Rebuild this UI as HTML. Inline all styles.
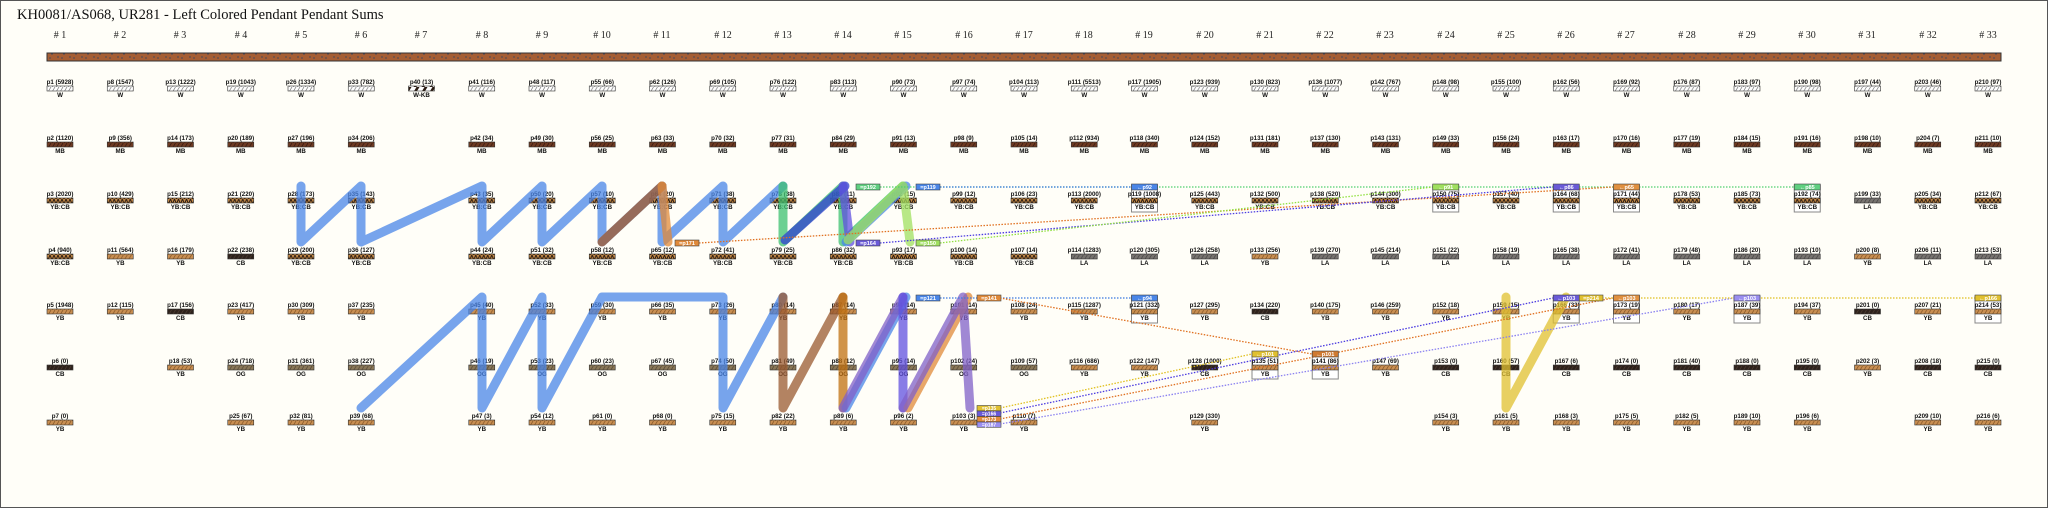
<!DOCTYPE html>
<html><head><meta charset="utf-8"><style>
html,body{margin:0;padding:0;background:#fffef8;}
svg{display:block}
.p text{font-family:"Liberation Sans",sans-serif;font-size:6.2px;text-anchor:middle;fill:#111;font-weight:bold}
.t{font-family:"Liberation Sans",sans-serif;font-size:5.5px;fill:#fff;text-anchor:middle;font-weight:bold}
.h{font-family:"Liberation Serif",serif;font-size:10px;fill:#222;text-anchor:middle}
.ln{fill:none;stroke-linecap:round;stroke-linejoin:round;stroke-width:9;opacity:.75}
.d{fill:none;stroke-width:1.3;stroke-dasharray:1.5 1.5}
</style></head><body>
<svg width="2048" height="508" viewBox="0 0 2048 508" xmlns="http://www.w3.org/2000/svg">
<defs>
<pattern id="pw" width="4" height="5" patternUnits="userSpaceOnUse"><rect width="4" height="5" fill="#fff"/><path d="M0,5 L3,0" stroke="#777" stroke-width=".7"/></pattern>
<pattern id="pmb" width="4" height="5" patternUnits="userSpaceOnUse"><rect width="4" height="5" fill="#6e3a22"/><path d="M0,5 L3,0" stroke="#3a1a10" stroke-width=".8"/></pattern>
<pattern id="pyc" width="4" height="5" patternUnits="userSpaceOnUse"><rect width="4" height="5" fill="#c48a48"/><path d="M0,5 L2,0 L4,5" stroke="#2a1a10" stroke-width="1" fill="none"/></pattern>
<pattern id="pyb" width="4" height="5" patternUnits="userSpaceOnUse"><rect width="4" height="5" fill="#c98f52"/><path d="M0,5 L3,0" stroke="#8a5a2a" stroke-width=".8"/></pattern>
<pattern id="pcb" width="4" height="5" patternUnits="userSpaceOnUse"><rect width="4" height="5" fill="#2e221c"/><path d="M0,5 L3,0" stroke="#4a3a30" stroke-width=".8"/></pattern>
<pattern id="pog" width="4" height="5" patternUnits="userSpaceOnUse"><rect width="4" height="5" fill="#8a7858"/><path d="M0,5 L3,0" stroke="#5a4a38" stroke-width=".8"/></pattern>
<pattern id="pla" width="4" height="5" patternUnits="userSpaceOnUse"><rect width="4" height="5" fill="#787470"/><path d="M0,5 L3,0" stroke="#4a4848" stroke-width=".8"/></pattern>
<pattern id="pwk" width="8" height="5" patternUnits="userSpaceOnUse"><rect width="8" height="5" fill="#fff"/><path d="M0,5 L3,0 L6,0 L3,5Z" fill="#2a1a10"/></pattern>
<pattern id="cord" width="12" height="8" patternUnits="userSpaceOnUse"><rect width="12" height="8" fill="#a55e34"/><path d="M1,2h2M6,5h3M9,1h2M3,6h2" stroke="#4a4a58" stroke-width="1"/></pattern>
<rect id="W" x="-13" y="4" width="26" height="5" fill="url(#pw)" stroke="#333" stroke-width=".6"/>
<rect id="MB" x="-13" y="4" width="26" height="5" fill="url(#pmb)" stroke="#333" stroke-width=".6"/>
<rect id="YC" x="-13" y="4" width="26" height="5" fill="url(#pyc)" stroke="#333" stroke-width=".6"/>
<rect id="YB" x="-13" y="4" width="26" height="5" fill="url(#pyb)" stroke="#333" stroke-width=".6"/>
<rect id="CB" x="-13" y="4" width="26" height="5" fill="url(#pcb)" stroke="#333" stroke-width=".6"/>
<rect id="OG" x="-13" y="4" width="26" height="5" fill="url(#pog)" stroke="#333" stroke-width=".6"/>
<rect id="LA" x="-13" y="4" width="26" height="5" fill="url(#pla)" stroke="#333" stroke-width=".6"/>
<rect id="WK" x="-13" y="4" width="26" height="5" fill="url(#pwk)" stroke="#333" stroke-width=".6"/>
<rect id="BX" x="-13" y="-9" width="26" height="27" fill="#fff" stroke="#888" stroke-width="1"/>
</defs>
<rect x="0.5" y="0.5" width="2047" height="507" fill="#fffef8" stroke="#555"/>
<text x="17" y="19" font-family="Liberation Serif,serif" font-size="14.5" fill="#111">KH0081/AS068, UR281 - Left Colored Pendant Pendant Sums</text>
<g class="h">
<text x="60" y="38"># 1</text><text x="120" y="38"># 2</text><text x="180" y="38"># 3</text><text x="241" y="38"># 4</text><text x="301" y="38"># 5</text><text x="361" y="38"># 6</text><text x="421" y="38"># 7</text><text x="482" y="38"># 8</text><text x="542" y="38"># 9</text><text x="602" y="38"># 10</text><text x="662" y="38"># 11</text><text x="723" y="38"># 12</text><text x="783" y="38"># 13</text><text x="843" y="38"># 14</text><text x="903" y="38"># 15</text><text x="964" y="38"># 16</text><text x="1024" y="38"># 17</text><text x="1084" y="38"># 18</text><text x="1144" y="38"># 19</text><text x="1205" y="38"># 20</text><text x="1265" y="38"># 21</text><text x="1325" y="38"># 22</text><text x="1385" y="38"># 23</text><text x="1446" y="38"># 24</text><text x="1506" y="38"># 25</text><text x="1566" y="38"># 26</text><text x="1626" y="38"># 27</text><text x="1687" y="38"># 28</text><text x="1747" y="38"># 29</text><text x="1807" y="38"># 30</text><text x="1867" y="38"># 31</text><text x="1928" y="38"># 32</text><text x="1988" y="38"># 33</text>
</g>
<rect x="47" y="53" width="1954" height="8" fill="url(#cord)" stroke="#333" stroke-width="1"/>

<!-- boxes -->
<use href="#BX" x="1144.5" y="194"/><use href="#BX" x="1144.5" y="305"/><use href="#BX" x="1265" y="361"/><use href="#BX" x="1325.25" y="361"/>
<use href="#BX" x="1445.75" y="194"/><use href="#BX" x="1566.25" y="194"/><use href="#BX" x="1566.25" y="305"/><use href="#BX" x="1626.5" y="194"/><use href="#BX" x="1626.5" y="305"/><use href="#BX" x="1747" y="305"/><use href="#BX" x="1807.25" y="194"/><use href="#BX" x="1988" y="305"/>

<g class="p">
<!-- c1 -->
<g transform="translate(60,82)"><text y="2">p1 (5928)</text><use href="#W"/><text y="15">W</text></g>
<g transform="translate(60,138)"><text y="2">p2 (1120)</text><use href="#MB"/><text y="15">MB</text></g>
<g transform="translate(60,194)"><text y="2">p3 (2020)</text><use href="#YC"/><text y="15">YB:CB</text></g>
<g transform="translate(60,250)"><text y="2">p4 (940)</text><use href="#YC"/><text y="15">YB:CB</text></g>
<g transform="translate(60,305)"><text y="2">p5 (1948)</text><use href="#YB"/><text y="15">YB</text></g>
<g transform="translate(60,361)"><text y="2">p6 (0)</text><use href="#CB"/><text y="15">CB</text></g>
<g transform="translate(60,416)"><text y="2">p7 (0)</text><use href="#YB"/><text y="15">YB</text></g>
<!-- c2 -->
<g transform="translate(120.25,82)"><text y="2">p8 (1547)</text><use href="#W"/><text y="15">W</text></g>
<g transform="translate(120.25,138)"><text y="2">p9 (356)</text><use href="#MB"/><text y="15">MB</text></g>
<g transform="translate(120.25,194)"><text y="2">p10 (429)</text><use href="#YC"/><text y="15">YB:CB</text></g>
<g transform="translate(120.25,250)"><text y="2">p11 (564)</text><use href="#YB"/><text y="15">YB</text></g>
<g transform="translate(120.25,305)"><text y="2">p12 (115)</text><use href="#YB"/><text y="15">YB</text></g>
<!-- c3 -->
<g transform="translate(180.5,82)"><text y="2">p13 (1222)</text><use href="#W"/><text y="15">W</text></g>
<g transform="translate(180.5,138)"><text y="2">p14 (173)</text><use href="#MB"/><text y="15">MB</text></g>
<g transform="translate(180.5,194)"><text y="2">p15 (212)</text><use href="#YC"/><text y="15">YB:CB</text></g>
<g transform="translate(180.5,250)"><text y="2">p16 (179)</text><use href="#YB"/><text y="15">YB</text></g>
<g transform="translate(180.5,305)"><text y="2">p17 (156)</text><use href="#CB"/><text y="15">CB</text></g>
<g transform="translate(180.5,361)"><text y="2">p18 (53)</text><use href="#YB"/><text y="15">YB</text></g>
<!-- c4 -->
<g transform="translate(240.75,82)"><text y="2">p19 (1043)</text><use href="#W"/><text y="15">W</text></g>
<g transform="translate(240.75,138)"><text y="2">p20 (189)</text><use href="#MB"/><text y="15">MB</text></g>
<g transform="translate(240.75,194)"><text y="2">p21 (220)</text><use href="#YC"/><text y="15">YB:CB</text></g>
<g transform="translate(240.75,250)"><text y="2">p22 (238)</text><use href="#CB"/><text y="15">CB</text></g>
<g transform="translate(240.75,305)"><text y="2">p23 (417)</text><use href="#YB"/><text y="15">YB</text></g>
<g transform="translate(240.75,361)"><text y="2">p24 (718)</text><use href="#OG"/><text y="15">OG</text></g>
<g transform="translate(240.75,416)"><text y="2">p25 (67)</text><use href="#YB"/><text y="15">YB</text></g>
<!-- c5 -->
<g transform="translate(301,82)"><text y="2">p26 (1334)</text><use href="#W"/><text y="15">W</text></g>
<g transform="translate(301,138)"><text y="2">p27 (196)</text><use href="#MB"/><text y="15">MB</text></g>
<g transform="translate(301,194)"><text y="2">p28 (173)</text><use href="#YC"/><text y="15">YB:CB</text></g>
<g transform="translate(301,250)"><text y="2">p29 (200)</text><use href="#YC"/><text y="15">YB:CB</text></g>
<g transform="translate(301,305)"><text y="2">p30 (309)</text><use href="#YB"/><text y="15">YB</text></g>
<g transform="translate(301,361)"><text y="2">p31 (361)</text><use href="#OG"/><text y="15">OG</text></g>
<g transform="translate(301,416)"><text y="2">p32 (81)</text><use href="#YB"/><text y="15">YB</text></g>
<!-- c6 -->
<g transform="translate(361.25,82)"><text y="2">p33 (782)</text><use href="#W"/><text y="15">W</text></g>
<g transform="translate(361.25,138)"><text y="2">p34 (206)</text><use href="#MB"/><text y="15">MB</text></g>
<g transform="translate(361.25,194)"><text y="2">p35 (143)</text><use href="#YC"/><text y="15">YB:CB</text></g>
<g transform="translate(361.25,250)"><text y="2">p36 (127)</text><use href="#YC"/><text y="15">YB:CB</text></g>
<g transform="translate(361.25,305)"><text y="2">p37 (235)</text><use href="#YB"/><text y="15">YB</text></g>
<g transform="translate(361.25,361)"><text y="2">p38 (227)</text><use href="#OG"/><text y="15">OG</text></g>
<g transform="translate(361.25,416)"><text y="2">p39 (68)</text><use href="#YB"/><text y="15">YB</text></g>
<!-- c7 -->
<g transform="translate(421.5,82)"><text y="2">p40 (13)</text><use href="#WK"/><text y="15">W-KB</text></g>
<!-- c8 -->
<g transform="translate(481.75,82)"><text y="2">p41 (116)</text><use href="#W"/><text y="15">W</text></g>
<g transform="translate(481.75,138)"><text y="2">p42 (34)</text><use href="#MB"/><text y="15">MB</text></g>
<g transform="translate(481.75,194)"><text y="2">p43 (35)</text><use href="#YC"/><text y="15">YB:CB</text></g>
<g transform="translate(481.75,250)"><text y="2">p44 (24)</text><use href="#YC"/><text y="15">YB:CB</text></g>
<g transform="translate(481.75,305)"><text y="2">p45 (40)</text><use href="#YB"/><text y="15">YB</text></g>
<g transform="translate(481.75,361)"><text y="2">p46 (19)</text><use href="#OG"/><text y="15">OG</text></g>
<g transform="translate(481.75,416)"><text y="2">p47 (3)</text><use href="#YB"/><text y="15">YB</text></g>
<!-- c9 -->
<g transform="translate(542,82)"><text y="2">p48 (117)</text><use href="#W"/><text y="15">W</text></g>
<g transform="translate(542,138)"><text y="2">p49 (30)</text><use href="#MB"/><text y="15">MB</text></g>
<g transform="translate(542,194)"><text y="2">p50 (20)</text><use href="#YC"/><text y="15">YB:CB</text></g>
<g transform="translate(542,250)"><text y="2">p51 (32)</text><use href="#YC"/><text y="15">YB:CB</text></g>
<g transform="translate(542,305)"><text y="2">p52 (33)</text><use href="#YB"/><text y="15">YB</text></g>
<g transform="translate(542,361)"><text y="2">p53 (23)</text><use href="#OG"/><text y="15">OG</text></g>
<g transform="translate(542,416)"><text y="2">p54 (12)</text><use href="#YB"/><text y="15">YB</text></g>
<!-- c10 -->
<g transform="translate(602.25,82)"><text y="2">p55 (66)</text><use href="#W"/><text y="15">W</text></g>
<g transform="translate(602.25,138)"><text y="2">p56 (25)</text><use href="#MB"/><text y="15">MB</text></g>
<g transform="translate(602.25,194)"><text y="2">p57 (10)</text><use href="#YC"/><text y="15">YB:CB</text></g>
<g transform="translate(602.25,250)"><text y="2">p58 (12)</text><use href="#YC"/><text y="15">YB:CB</text></g>
<g transform="translate(602.25,305)"><text y="2">p59 (30)</text><use href="#YB"/><text y="15">YB</text></g>
<g transform="translate(602.25,361)"><text y="2">p60 (23)</text><use href="#OG"/><text y="15">OG</text></g>
<g transform="translate(602.25,416)"><text y="2">p61 (0)</text><use href="#YB"/><text y="15">YB</text></g>
<!-- c11 -->
<g transform="translate(662.5,82)"><text y="2">p62 (126)</text><use href="#W"/><text y="15">W</text></g>
<g transform="translate(662.5,138)"><text y="2">p63 (33)</text><use href="#MB"/><text y="15">MB</text></g>
<g transform="translate(662.5,194)"><text y="2">p64 (20)</text><use href="#YC"/><text y="15">YB:CB</text></g>
<g transform="translate(662.5,250)"><text y="2">p65 (12)</text><use href="#YC"/><text y="15">YB:CB</text></g>
<g transform="translate(662.5,305)"><text y="2">p66 (35)</text><use href="#YB"/><text y="15">YB</text></g>
<g transform="translate(662.5,361)"><text y="2">p67 (45)</text><use href="#OG"/><text y="15">OG</text></g>
<g transform="translate(662.5,416)"><text y="2">p68 (0)</text><use href="#YB"/><text y="15">YB</text></g>
<!-- c12 -->
<g transform="translate(722.75,82)"><text y="2">p69 (105)</text><use href="#W"/><text y="15">W</text></g>
<g transform="translate(722.75,138)"><text y="2">p70 (32)</text><use href="#MB"/><text y="15">MB</text></g>
<g transform="translate(722.75,194)"><text y="2">p71 (38)</text><use href="#YC"/><text y="15">YB:CB</text></g>
<g transform="translate(722.75,250)"><text y="2">p72 (41)</text><use href="#YC"/><text y="15">YB:CB</text></g>
<g transform="translate(722.75,305)"><text y="2">p73 (26)</text><use href="#YB"/><text y="15">YB</text></g>
<g transform="translate(722.75,361)"><text y="2">p74 (50)</text><use href="#OG"/><text y="15">OG</text></g>
<g transform="translate(722.75,416)"><text y="2">p75 (15)</text><use href="#YB"/><text y="15">YB</text></g>
<!-- c13 -->
<g transform="translate(783,82)"><text y="2">p76 (122)</text><use href="#W"/><text y="15">W</text></g>
<g transform="translate(783,138)"><text y="2">p77 (31)</text><use href="#MB"/><text y="15">MB</text></g>
<g transform="translate(783,194)"><text y="2">p78 (38)</text><use href="#YC"/><text y="15">YB:CB</text></g>
<g transform="translate(783,250)"><text y="2">p79 (25)</text><use href="#YC"/><text y="15">YB:CB</text></g>
<g transform="translate(783,305)"><text y="2">p80 (14)</text><use href="#YB"/><text y="15">YB</text></g>
<g transform="translate(783,361)"><text y="2">p81 (49)</text><use href="#OG"/><text y="15">OG</text></g>
<g transform="translate(783,416)"><text y="2">p82 (22)</text><use href="#YB"/><text y="15">YB</text></g>
<!-- c14 -->
<g transform="translate(843.25,82)"><text y="2">p83 (113)</text><use href="#W"/><text y="15">W</text></g>
<g transform="translate(843.25,138)"><text y="2">p84 (29)</text><use href="#MB"/><text y="15">MB</text></g>
<g transform="translate(843.25,194)"><text y="2">p85 (11)</text><use href="#YC"/><text y="15">YB:CB</text></g>
<g transform="translate(843.25,250)"><text y="2">p86 (32)</text><use href="#YC"/><text y="15">YB:CB</text></g>
<g transform="translate(843.25,305)"><text y="2">p87 (14)</text><use href="#YB"/><text y="15">YB</text></g>
<g transform="translate(843.25,361)"><text y="2">p88 (12)</text><use href="#OG"/><text y="15">OG</text></g>
<g transform="translate(843.25,416)"><text y="2">p89 (6)</text><use href="#YB"/><text y="15">YB</text></g>
<!-- c15 -->
<g transform="translate(903.5,82)"><text y="2">p90 (73)</text><use href="#W"/><text y="15">W</text></g>
<g transform="translate(903.5,138)"><text y="2">p91 (13)</text><use href="#MB"/><text y="15">MB</text></g>
<g transform="translate(903.5,194)"><text y="2">p92 (15)</text><use href="#YC"/><text y="15">YB:CB</text></g>
<g transform="translate(903.5,250)"><text y="2">p93 (17)</text><use href="#YC"/><text y="15">YB:CB</text></g>
<g transform="translate(903.5,305)"><text y="2">p94 (14)</text><use href="#YB"/><text y="15">YB</text></g>
<g transform="translate(903.5,361)"><text y="2">p95 (14)</text><use href="#OG"/><text y="15">OG</text></g>
<g transform="translate(903.5,416)"><text y="2">p96 (2)</text><use href="#YB"/><text y="15">YB</text></g>
<!-- c16 -->
<g transform="translate(963.75,82)"><text y="2">p97 (74)</text><use href="#W"/><text y="15">W</text></g>
<g transform="translate(963.75,138)"><text y="2">p98 (9)</text><use href="#MB"/><text y="15">MB</text></g>
<g transform="translate(963.75,194)"><text y="2">p99 (12)</text><use href="#YC"/><text y="15">YB:CB</text></g>
<g transform="translate(963.75,250)"><text y="2">p100 (14)</text><use href="#YC"/><text y="15">YB:CB</text></g>
<g transform="translate(963.75,305)"><text y="2">p101 (14)</text><use href="#YB"/><text y="15">YB</text></g>
<g transform="translate(963.75,361)"><text y="2">p102 (24)</text><use href="#OG"/><text y="15">OG</text></g>
<g transform="translate(963.75,416)"><text y="2">p103 (3)</text><use href="#YB"/><text y="15">YB</text></g>
<!-- c17 -->
<g transform="translate(1024,82)"><text y="2">p104 (113)</text><use href="#W"/><text y="15">W</text></g>
<g transform="translate(1024,138)"><text y="2">p105 (14)</text><use href="#MB"/><text y="15">MB</text></g>
<g transform="translate(1024,194)"><text y="2">p106 (23)</text><use href="#YC"/><text y="15">YB:CB</text></g>
<g transform="translate(1024,250)"><text y="2">p107 (14)</text><use href="#YC"/><text y="15">YB:CB</text></g>
<g transform="translate(1024,305)"><text y="2">p108 (24)</text><use href="#YB"/><text y="15">YB</text></g>
<g transform="translate(1024,361)"><text y="2">p109 (57)</text><use href="#OG"/><text y="15">OG</text></g>
<g transform="translate(1024,416)"><text y="2">p110 (7)</text><use href="#YB"/><text y="15">YB</text></g>
<!-- c18 -->
<g transform="translate(1084.25,82)"><text y="2">p111 (5513)</text><use href="#W"/><text y="15">W</text></g>
<g transform="translate(1084.25,138)"><text y="2">p112 (934)</text><use href="#MB"/><text y="15">MB</text></g>
<g transform="translate(1084.25,194)"><text y="2">p113 (2000)</text><use href="#YC"/><text y="15">YB:CB</text></g>
<g transform="translate(1084.25,250)"><text y="2">p114 (1283)</text><use href="#LA"/><text y="15">LA</text></g>
<g transform="translate(1084.25,305)"><text y="2">p115 (1287)</text><use href="#YB"/><text y="15">YB</text></g>
<g transform="translate(1084.25,361)"><text y="2">p116 (686)</text><use href="#YB"/><text y="15">YB</text></g>
<!-- c19 -->
<g transform="translate(1144.5,82)"><text y="2">p117 (1905)</text><use href="#W"/><text y="15">W</text></g>
<g transform="translate(1144.5,138)"><text y="2">p118 (340)</text><use href="#MB"/><text y="15">MB</text></g>
<g transform="translate(1144.5,194)"><text y="2">p119 (1008)</text><use href="#YC"/><text y="15">YB:CB</text></g>
<g transform="translate(1144.5,250)"><text y="2">p120 (305)</text><use href="#LA"/><text y="15">LA</text></g>
<g transform="translate(1144.5,305)"><text y="2">p121 (332)</text><use href="#YB"/><text y="15">YB</text></g>
<g transform="translate(1144.5,361)"><text y="2">p122 (147)</text><use href="#YB"/><text y="15">YB</text></g>
<!-- c20 -->
<g transform="translate(1204.75,82)"><text y="2">p123 (939)</text><use href="#W"/><text y="15">W</text></g>
<g transform="translate(1204.75,138)"><text y="2">p124 (152)</text><use href="#MB"/><text y="15">MB</text></g>
<g transform="translate(1204.75,194)"><text y="2">p125 (443)</text><use href="#YC"/><text y="15">YB:CB</text></g>
<g transform="translate(1204.75,250)"><text y="2">p126 (258)</text><use href="#LA"/><text y="15">LA</text></g>
<g transform="translate(1204.75,305)"><text y="2">p127 (295)</text><use href="#YB"/><text y="15">YB</text></g>
<g transform="translate(1204.75,361)"><text y="2">p128 (1000)</text><use href="#CB"/><text y="15">CB</text></g>
<g transform="translate(1204.75,416)"><text y="2">p129 (330)</text><use href="#YB"/><text y="15">YB</text></g>
<!-- c21 -->
<g transform="translate(1265,82)"><text y="2">p130 (823)</text><use href="#W"/><text y="15">W</text></g>
<g transform="translate(1265,138)"><text y="2">p131 (181)</text><use href="#MB"/><text y="15">MB</text></g>
<g transform="translate(1265,194)"><text y="2">p132 (500)</text><use href="#YC"/><text y="15">YB:CB</text></g>
<g transform="translate(1265,250)"><text y="2">p133 (256)</text><use href="#YB"/><text y="15">YB</text></g>
<g transform="translate(1265,305)"><text y="2">p134 (220)</text><use href="#CB"/><text y="15">CB</text></g>
<g transform="translate(1265,361)"><text y="2">p135 (51)</text><use href="#YB"/><text y="15">YB</text></g>
<!-- c22 -->
<g transform="translate(1325.25,82)"><text y="2">p136 (1077)</text><use href="#W"/><text y="15">W</text></g>
<g transform="translate(1325.25,138)"><text y="2">p137 (130)</text><use href="#MB"/><text y="15">MB</text></g>
<g transform="translate(1325.25,194)"><text y="2">p138 (520)</text><use href="#YC"/><text y="15">YB:CB</text></g>
<g transform="translate(1325.25,250)"><text y="2">p139 (270)</text><use href="#LA"/><text y="15">LA</text></g>
<g transform="translate(1325.25,305)"><text y="2">p140 (175)</text><use href="#YB"/><text y="15">YB</text></g>
<g transform="translate(1325.25,361)"><text y="2">p141 (86)</text><use href="#YB"/><text y="15">YB</text></g>
<!-- c23 -->
<g transform="translate(1385.5,82)"><text y="2">p142 (767)</text><use href="#W"/><text y="15">W</text></g>
<g transform="translate(1385.5,138)"><text y="2">p143 (131)</text><use href="#MB"/><text y="15">MB</text></g>
<g transform="translate(1385.5,194)"><text y="2">p144 (300)</text><use href="#YC"/><text y="15">YB:CB</text></g>
<g transform="translate(1385.5,250)"><text y="2">p145 (214)</text><use href="#LA"/><text y="15">LA</text></g>
<g transform="translate(1385.5,305)"><text y="2">p146 (259)</text><use href="#YB"/><text y="15">YB</text></g>
<g transform="translate(1385.5,361)"><text y="2">p147 (69)</text><use href="#YB"/><text y="15">YB</text></g>
<!-- c24 -->
<g transform="translate(1445.75,82)"><text y="2">p148 (98)</text><use href="#W"/><text y="15">W</text></g>
<g transform="translate(1445.75,138)"><text y="2">p149 (33)</text><use href="#MB"/><text y="15">MB</text></g>
<g transform="translate(1445.75,194)"><text y="2">p150 (75)</text><use href="#YC"/><text y="15">YB:CB</text></g>
<g transform="translate(1445.75,250)"><text y="2">p151 (22)</text><use href="#LA"/><text y="15">LA</text></g>
<g transform="translate(1445.75,305)"><text y="2">p152 (18)</text><use href="#YB"/><text y="15">YB</text></g>
<g transform="translate(1445.75,361)"><text y="2">p153 (0)</text><use href="#CB"/><text y="15">CB</text></g>
<g transform="translate(1445.75,416)"><text y="2">p154 (3)</text><use href="#YB"/><text y="15">YB</text></g>
<!-- c25 -->
<g transform="translate(1506,82)"><text y="2">p155 (100)</text><use href="#W"/><text y="15">W</text></g>
<g transform="translate(1506,138)"><text y="2">p156 (24)</text><use href="#MB"/><text y="15">MB</text></g>
<g transform="translate(1506,194)"><text y="2">p157 (40)</text><use href="#YC"/><text y="15">YB:CB</text></g>
<g transform="translate(1506,250)"><text y="2">p158 (19)</text><use href="#LA"/><text y="15">LA</text></g>
<g transform="translate(1506,305)"><text y="2">p159 (15)</text><use href="#YB"/><text y="15">YB</text></g>
<g transform="translate(1506,361)"><text y="2">p160 (57)</text><use href="#CB"/><text y="15">CB</text></g>
<g transform="translate(1506,416)"><text y="2">p161 (5)</text><use href="#YB"/><text y="15">YB</text></g>
<!-- c26 -->
<g transform="translate(1566.25,82)"><text y="2">p162 (56)</text><use href="#W"/><text y="15">W</text></g>
<g transform="translate(1566.25,138)"><text y="2">p163 (17)</text><use href="#MB"/><text y="15">MB</text></g>
<g transform="translate(1566.25,194)"><text y="2">p164 (68)</text><use href="#YC"/><text y="15">YB:CB</text></g>
<g transform="translate(1566.25,250)"><text y="2">p165 (38)</text><use href="#LA"/><text y="15">LA</text></g>
<g transform="translate(1566.25,305)"><text y="2">p166 (33)</text><use href="#YB"/><text y="15">YB</text></g>
<g transform="translate(1566.25,361)"><text y="2">p167 (6)</text><use href="#CB"/><text y="15">CB</text></g>
<g transform="translate(1566.25,416)"><text y="2">p168 (3)</text><use href="#YB"/><text y="15">YB</text></g>
<!-- c27 -->
<g transform="translate(1626.5,82)"><text y="2">p169 (92)</text><use href="#W"/><text y="15">W</text></g>
<g transform="translate(1626.5,138)"><text y="2">p170 (16)</text><use href="#MB"/><text y="15">MB</text></g>
<g transform="translate(1626.5,194)"><text y="2">p171 (44)</text><use href="#YC"/><text y="15">YB:CB</text></g>
<g transform="translate(1626.5,250)"><text y="2">p172 (41)</text><use href="#LA"/><text y="15">LA</text></g>
<g transform="translate(1626.5,305)"><text y="2">p173 (19)</text><use href="#YB"/><text y="15">YB</text></g>
<g transform="translate(1626.5,361)"><text y="2">p174 (0)</text><use href="#CB"/><text y="15">CB</text></g>
<g transform="translate(1626.5,416)"><text y="2">p175 (5)</text><use href="#YB"/><text y="15">YB</text></g>
<!-- c28 -->
<g transform="translate(1686.75,82)"><text y="2">p176 (87)</text><use href="#W"/><text y="15">W</text></g>
<g transform="translate(1686.75,138)"><text y="2">p177 (19)</text><use href="#MB"/><text y="15">MB</text></g>
<g transform="translate(1686.75,194)"><text y="2">p178 (53)</text><use href="#YC"/><text y="15">YB:CB</text></g>
<g transform="translate(1686.75,250)"><text y="2">p179 (48)</text><use href="#LA"/><text y="15">LA</text></g>
<g transform="translate(1686.75,305)"><text y="2">p180 (17)</text><use href="#YB"/><text y="15">YB</text></g>
<g transform="translate(1686.75,361)"><text y="2">p181 (40)</text><use href="#CB"/><text y="15">CB</text></g>
<g transform="translate(1686.75,416)"><text y="2">p182 (5)</text><use href="#YB"/><text y="15">YB</text></g>
<!-- c29 -->
<g transform="translate(1747,82)"><text y="2">p183 (97)</text><use href="#W"/><text y="15">W</text></g>
<g transform="translate(1747,138)"><text y="2">p184 (15)</text><use href="#MB"/><text y="15">MB</text></g>
<g transform="translate(1747,194)"><text y="2">p185 (73)</text><use href="#YC"/><text y="15">YB:CB</text></g>
<g transform="translate(1747,250)"><text y="2">p186 (20)</text><use href="#LA"/><text y="15">LA</text></g>
<g transform="translate(1747,305)"><text y="2">p187 (39)</text><use href="#YB"/><text y="15">YB</text></g>
<g transform="translate(1747,361)"><text y="2">p188 (0)</text><use href="#CB"/><text y="15">CB</text></g>
<g transform="translate(1747,416)"><text y="2">p189 (10)</text><use href="#YB"/><text y="15">YB</text></g>
<!-- c30 -->
<g transform="translate(1807.25,82)"><text y="2">p190 (98)</text><use href="#W"/><text y="15">W</text></g>
<g transform="translate(1807.25,138)"><text y="2">p191 (16)</text><use href="#MB"/><text y="15">MB</text></g>
<g transform="translate(1807.25,194)"><text y="2">p192 (74)</text><use href="#YC"/><text y="15">YB:CB</text></g>
<g transform="translate(1807.25,250)"><text y="2">p193 (10)</text><use href="#LA"/><text y="15">LA</text></g>
<g transform="translate(1807.25,305)"><text y="2">p194 (37)</text><use href="#YB"/><text y="15">YB</text></g>
<g transform="translate(1807.25,361)"><text y="2">p195 (0)</text><use href="#CB"/><text y="15">CB</text></g>
<g transform="translate(1807.25,416)"><text y="2">p196 (6)</text><use href="#YB"/><text y="15">YB</text></g>
<!-- c31 -->
<g transform="translate(1867.5,82)"><text y="2">p197 (44)</text><use href="#W"/><text y="15">W</text></g>
<g transform="translate(1867.5,138)"><text y="2">p198 (10)</text><use href="#MB"/><text y="15">MB</text></g>
<g transform="translate(1867.5,194)"><text y="2">p199 (33)</text><use href="#LA"/><text y="15">LA</text></g>
<g transform="translate(1867.5,250)"><text y="2">p200 (8)</text><use href="#YB"/><text y="15">YB</text></g>
<g transform="translate(1867.5,305)"><text y="2">p201 (0)</text><use href="#CB"/><text y="15">CB</text></g>
<g transform="translate(1867.5,361)"><text y="2">p202 (3)</text><use href="#YB"/><text y="15">YB</text></g>
<!-- c32 -->
<g transform="translate(1927.75,82)"><text y="2">p203 (46)</text><use href="#W"/><text y="15">W</text></g>
<g transform="translate(1927.75,138)"><text y="2">p204 (7)</text><use href="#MB"/><text y="15">MB</text></g>
<g transform="translate(1927.75,194)"><text y="2">p205 (34)</text><use href="#YC"/><text y="15">YB:CB</text></g>
<g transform="translate(1927.75,250)"><text y="2">p206 (11)</text><use href="#LA"/><text y="15">LA</text></g>
<g transform="translate(1927.75,305)"><text y="2">p207 (21)</text><use href="#YB"/><text y="15">YB</text></g>
<g transform="translate(1927.75,361)"><text y="2">p208 (18)</text><use href="#CB"/><text y="15">CB</text></g>
<g transform="translate(1927.75,416)"><text y="2">p209 (10)</text><use href="#YB"/><text y="15">YB</text></g>
<!-- c33 -->
<g transform="translate(1988,82)"><text y="2">p210 (97)</text><use href="#W"/><text y="15">W</text></g>
<g transform="translate(1988,138)"><text y="2">p211 (10)</text><use href="#MB"/><text y="15">MB</text></g>
<g transform="translate(1988,194)"><text y="2">p212 (67)</text><use href="#YC"/><text y="15">YB:CB</text></g>
<g transform="translate(1988,250)"><text y="2">p213 (53)</text><use href="#LA"/><text y="15">LA</text></g>
<g transform="translate(1988,305)"><text y="2">p214 (53)</text><use href="#YB"/><text y="15">YB</text></g>
<g transform="translate(1988,361)"><text y="2">p215 (0)</text><use href="#CB"/><text y="15">CB</text></g>
<g transform="translate(1988,416)"><text y="2">p216 (6)</text><use href="#YB"/><text y="15">YB</text></g>
</g>

<!-- thick sum lines -->
<path class="ln" stroke="#4a86e8" d="M301,186 L301,242 L361,186 L361,242 L482,186 L482,242 L542,186 L542,242 L602,186 L602,242 L662,186 L662,242 L723,186 L723,242 L783,186"/>
<path class="ln" stroke="#a0582a" d="M602,242 L662,186"/>
<path class="ln" stroke="#e08a3a" d="M662,186 L668,242"/>
<path class="ln" stroke="#3cc070" d="M783,186 L783,242 L843,186 L843,242 L903,186"/>
<path class="ln" stroke="#3040d0" stroke-width="4" d="M785,240 L845,186"/>
<path class="ln" stroke="#6050e0" stroke-width="6" d="M843,186 L850,242"/>
<path class="ln" stroke="#4a86e8" stroke-width="5" d="M846,242 L906,186"/>
<path class="ln" stroke="#a0e060" d="M848,240 L903,186 L910,242"/>
<path class="ln" stroke="#4a86e8" d="M361,408 L482,297 L482,408 L542,297 L542,408 L602,297 L723,297 L723,408 L783,297"/>
<path class="ln" stroke="#9a5a30" d="M783,297 L783,408 L843,297"/>
<path class="ln" stroke="#c07010" d="M843,297 L843,408"/>
<path class="ln" stroke="#4a86e8" stroke-width="6" d="M846,408 L906,297"/>
<path class="ln" stroke="#8060c8" d="M843,408 L903,297"/>
<path class="ln" stroke="#6050e0" d="M903,297 L903,408"/>
<path class="ln" stroke="#e08a3a" stroke-width="6" d="M908,408 L968,297"/>
<path class="ln" stroke="#8060c8" d="M903,408 L963,297 L970,408"/>
<path class="ln" stroke="#e0c030" d="M1506,297 L1506,408 L1566,297"/>

<!-- dotted connectors -->
<g>
<path class="d" stroke="#50d070" d="M880,187 L1794,187"/>
<path class="d" stroke="#3a7ae0" d="M940,187 L1131,187"/>
<path class="d" stroke="#e07020" d="M699,243 L1613,187"/>
<path class="d" stroke="#4a3ae0" d="M880,243 L1553,187"/>
<path class="d" stroke="#90e040" d="M940,243 L1433,187"/>
<path class="d" stroke="#3a7ae0" d="M940,298 L1131,298"/>
<path class="d" stroke="#e07020" d="M1000,298 L1312,354"/>
<path class="d" stroke="#e0c020" d="M1000,408 L1252,354"/>
<path class="d" stroke="#4a3ae0" d="M1000,413 L1553,298"/>
<path class="d" stroke="#e07020" d="M1000,419 L1613,298"/>
<path class="d" stroke="#8a80f0" d="M1000,424 L1734,298"/>
<path class="d" stroke="#e0c020" d="M1602,298 L1975,298"/>
</g>

<!-- source tags -->
<g stroke="#444" stroke-width=".6">
<rect x="856" y="184" width="24" height="6" fill="#60d080"/>
<rect x="916" y="184" width="24" height="6" fill="#4a86e8"/>
<rect x="675" y="240" width="24" height="6" fill="#e08a3a"/>
<rect x="856" y="240" width="24" height="6" fill="#6a5ad8"/>
<rect x="916" y="240" width="24" height="6" fill="#a0e060"/>
<rect x="916" y="295" width="24" height="6" fill="#4a86e8"/>
<rect x="977" y="295" width="24" height="6" fill="#e08a3a"/>
<rect x="977" y="405.5" width="24" height="5.3" fill="#e0c030"/>
<rect x="977" y="411" width="24" height="5.3" fill="#6a5ad8"/>
<rect x="977" y="416.5" width="24" height="5.3" fill="#e08a3a"/>
<rect x="977" y="422" width="24" height="5.3" fill="#9a8ef0"/>
<rect x="1579" y="295" width="24" height="6" fill="#e0c030"/>
<!-- dest tags -->
<rect x="1131.5" y="184" width="26" height="6" fill="#4a86e8"/>
<rect x="1131.5" y="295" width="26" height="6" fill="#4a86e8"/>
<rect x="1252" y="351" width="26" height="6" fill="#e0c030"/>
<rect x="1312.25" y="351" width="26" height="6" fill="#d07a30"/>
<rect x="1432.75" y="184" width="26" height="6" fill="#a0e060"/>
<rect x="1553.25" y="184" width="26" height="6" fill="#6a5ad8"/>
<rect x="1553.25" y="295" width="26" height="6" fill="#6a5ad8"/>
<rect x="1613.5" y="184" width="26" height="6" fill="#e09040"/>
<rect x="1613.5" y="295" width="26" height="6" fill="#e09040"/>
<rect x="1734" y="295" width="26" height="6" fill="#9a8ef0"/>
<rect x="1794.25" y="184" width="26" height="6" fill="#60d080"/>
<rect x="1975" y="295" width="26" height="6" fill="#e0c030"/>
</g>
<g class="t">
<text x="868" y="189">=p192</text><text x="928" y="189">=p119</text><text x="687" y="245">=p171</text><text x="868" y="245">=p164</text><text x="928" y="245">=p150</text><text x="928" y="300">=p121</text><text x="989" y="300">=p141</text>
<text x="989" y="410" font-size="5">=p135</text><text x="989" y="415.5" font-size="5">=p166</text><text x="989" y="421" font-size="5">=p173</text><text x="989" y="426.5" font-size="5">=p187</text><text x="1591" y="300">=p214</text>
<text x="1144.5" y="189">←p92</text><text x="1144.5" y="300">←p94</text><text x="1265" y="356">←p101</text><text x="1325.25" y="356">←p101</text><text x="1445.75" y="189">←p91</text><text x="1566.25" y="189">←p86</text><text x="1566.25" y="300">←p103</text><text x="1626.5" y="189">←p65</text><text x="1626.5" y="300">←p103</text><text x="1747" y="300">←p103</text><text x="1807.25" y="189">←p85</text><text x="1988" y="300">←p166</text>
</g>
</svg>
</body></html>
